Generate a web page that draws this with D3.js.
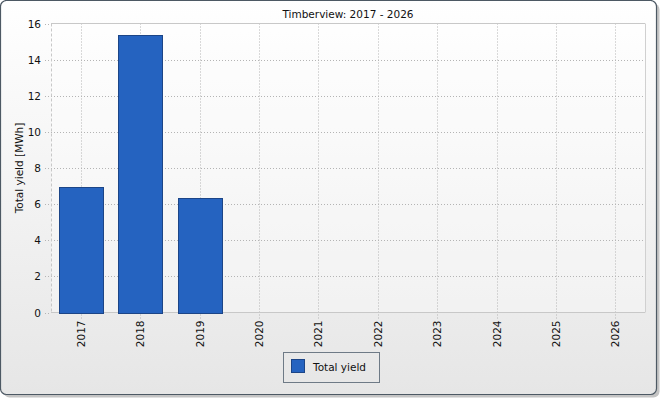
<!DOCTYPE html>
<html><head><meta charset="utf-8">
<script src="https://cdn.jsdelivr.net/npm/d3@7"></script>
<style>
html,body{margin:0;padding:0;background:#fff;}
svg text{font-family:"DejaVu Sans",sans-serif;}
</style></head>
<body>
<svg id="c" width="662" height="400"></svg>
<script>
const categories = ["2017","2018","2019","2020","2021","2022","2023","2024","2025","2026"];
const totalYield = [6.95, 15.37, 6.33, null, null, null, null, null, null, null];
const yTicks = [0,2,4,6,8,10,12,14,16];
const title = "Timberview: 2017 - 2026";
const yLabel = "Total yield [MWh]";
const seriesName = "Total yield";

const svg = d3.select("#c");
const defs = svg.append("defs");
const grad = defs.append("linearGradient").attr("id","bg").attr("x1",0).attr("y1",0).attr("x2",0).attr("y2",1);
grad.append("stop").attr("offset","0%").attr("stop-color","#ffffff");
grad.append("stop").attr("offset","100%").attr("stop-color","#e6e6e6");

// shadow
svg.append("rect").attr("x",3.5).attr("y",3.5).attr("width",656).attr("height",394).attr("rx",6)
  .attr("fill","#c4c4c4");
svg.append("rect").attr("x",0.5).attr("y",0.5).attr("width",656).attr("height",394).attr("rx",6)
  .attr("fill","url(#bg)").attr("stroke","#4d5964").attr("stroke-width",1.2);

const L=51, R=645, T=23.5, B=312.5;
const x = d3.scaleBand().domain(categories).range([L,R]).paddingInner(0.26).paddingOuter(0.13);
const y = d3.scaleLinear().domain([0,16]).range([B,T]);

// plot bg
svg.append("rect").attr("x",L).attr("y",T).attr("width",R-L).attr("height",B-T).attr("fill","#ffffff").attr("opacity",0.35);

const g = svg.append("g");
// horizontal grid
g.selectAll(".hg").data(yTicks.filter(d=>d>0 && d<16)).join("line")
  .attr("x1",L-6).attr("x2",R).attr("y1",d=>Math.round(y(d))+0.5).attr("y2",d=>Math.round(y(d))+0.5)
  .attr("stroke","#b4b4b4").attr("stroke-dasharray","1,2");
// left tick for 0 and 16
g.selectAll(".ht").data([0,16]).join("line")
  .attr("x1",L-6).attr("x2",L).attr("y1",d=>Math.round(y(d))+0.5).attr("y2",d=>Math.round(y(d))+0.5)
  .attr("stroke","#b4b4b4").attr("stroke-dasharray","1,2");
// vertical grid
g.selectAll(".vg").data(categories).join("line")
  .attr("x1",d=>Math.round(x(d)+x.bandwidth()/2)+0.5).attr("x2",d=>Math.round(x(d)+x.bandwidth()/2)+0.5)
  .attr("y1",T).attr("y2",B+6)
  .attr("stroke","#b4b4b4").attr("stroke-dasharray","1,2");
// plot border
g.append("line").attr("x1",L).attr("x2",R).attr("y1",T).attr("y2",T).attr("stroke","#c8c8c8");
g.append("line").attr("x1",L).attr("x2",R).attr("y1",B).attr("y2",B).attr("stroke","#c8c8c8");
g.append("line").attr("x1",L+0.5).attr("x2",L+0.5).attr("y1",T).attr("y2",B).attr("stroke","#c8c8c8").attr("stroke-dasharray","3,2");
g.append("line").attr("x1",R+0.5).attr("x2",R+0.5).attr("y1",T).attr("y2",B).attr("stroke","#d0d0d0");

// bars
const data = categories.map((c,i)=>({c, v: totalYield[i]})).filter(d=>d.v!=null);
g.selectAll(".bar").data(data).join("rect")
  .attr("x",d=>Math.round(x(d.c))+0.5).attr("width",Math.round(x.bandwidth()))
  .attr("y",d=>Math.round(y(d.v))+0.5).attr("height",d=>Math.round(B)-Math.round(y(d.v)))
  .attr("fill","#2563c0").attr("stroke","#1c4587").attr("stroke-width",1);

// y tick labels
g.selectAll(".yl").data(yTicks).join("text")
  .attr("x",41).attr("y",d=>y(d)+4).attr("text-anchor","end")
  .attr("font-size","10.5px").attr("fill","#111").text(d=>d);
// x tick labels
g.selectAll(".xl").data(categories).join("text")
  .attr("transform",d=>`translate(${x(d)+x.bandwidth()/2+4},${B+8}) rotate(-90)`)
  .attr("text-anchor","end").attr("font-size","10.5px").attr("fill","#111").text(d=>d);

// title
svg.append("text").attr("x",(L+R)/2).attr("y",18).attr("text-anchor","middle")
  .attr("font-size","10.5px").attr("fill","#111").text(title);
// y label
svg.append("text").attr("transform",`translate(23,${(T+B)/2}) rotate(-90)`).attr("text-anchor","middle")
  .attr("font-size","10.5px").attr("fill","#111").text(yLabel);

// legend
const lg = svg.append("g");
lg.append("rect").attr("x",283.5).attr("y",352.5).attr("width",96).attr("height",30)
  .attr("fill","none").attr("stroke","#6e7a86");
lg.append("rect").attr("x",291.5).attr("y",359.5).attr("width",13).attr("height",13)
  .attr("fill","#2563c0").attr("stroke","#1c4587");
lg.append("text").attr("x",313).attr("y",371).attr("font-size","10.5px").attr("fill","#111").text(seriesName);
</script>
</body></html>
